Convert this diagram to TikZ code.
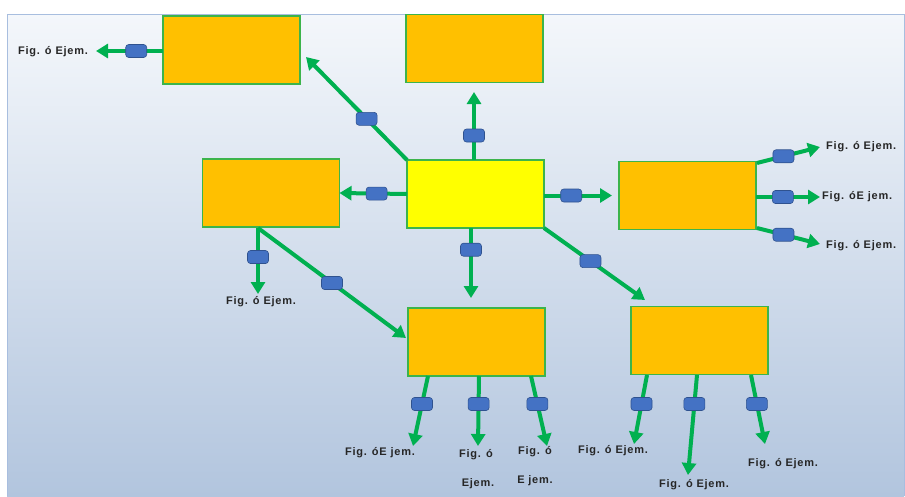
\documentclass[tikz,border=0pt]{standalone}
\usepackage{fontspec}
\setmainfont{Liberation Sans}
\newfontfamily\lblfont[LetterSpace=7]{Liberation Sans}
\usetikzlibrary{arrows.meta,calc}
\definecolor{gline}{HTML}{00B050}
\definecolor{gedge}{HTML}{3CB44B}
\definecolor{obox}{HTML}{FFC000}
\definecolor{ybox}{HTML}{FFFF00}
\definecolor{hblue}{HTML}{4472C4}
\definecolor{hborder}{HTML}{2F528F}
\definecolor{bgtop}{HTML}{F4F7FB}
\definecolor{bgbot}{HTML}{B2C5DE}
\definecolor{frame}{HTML}{A8BEDF}
\begin{document}
\begin{tikzpicture}[x=1pt,y=-1pt,
  orbox/.style={draw=gedge, line width=1.3pt, fill=obox, minimum width=137pt, minimum height=68pt, inner sep=0pt, outer sep=0pt},
  yebox/.style={orbox, fill=ybox},
  conn/.style={draw=gline, line width=4pt, -{Triangle[length=12pt,width=14pt]}},
  handle/.style={draw=hborder, line width=0.6pt, fill=hblue, rounded corners=3pt, minimum width=21pt, minimum height=13pt, inner sep=0pt},
  lbl/.style={font=\lblfont\bfseries\fontsize{11}{13}\selectfont, text=black!85, inner sep=0pt}
]
\useasboundingbox (0,0) rectangle (905,496);
\fill[white] (0,0) rectangle (905,496);
\shade[top color=bgtop, bottom color=bgbot] (7,14) rectangle (904,496);
\draw[frame, line width=1pt] (7,496) -- (7,14) -- (904,14) -- (904,496);

% boxes
\node[orbox] (tl) at (231.5,50) {};
\node[orbox] (tc) at (474.5,48.5) {};
\node[orbox] (lm) at (271,193) {};
\node[yebox] (c) at (475.5,194) {};
\node[orbox] (rt) at (687.5,195.5) {};
\node[orbox] (bc) at (476.5,342) {};
\node[orbox] (br) at (699.5,340.5) {};

% coordinates
\coordinate (tlTip) at (306,57);
\coordinate (tlOut) at (96,51);
\coordinate (tcTip) at (474,92);
\coordinate (cBot) at (471,228);
\coordinate (bcTip) at (471,298);
\coordinate (brTip) at (645,300);
\coordinate (lmA) at (258,228);
\coordinate (lmTip) at (258,294);
\coordinate (lmDiag) at (406,338);
\coordinate (r1s) at (757,163); \coordinate (r1t) at (820,147);
\coordinate (r2s) at (756,197); \coordinate (r2t) at (820,197);
\coordinate (r3s) at (757,228); \coordinate (r3t) at (820,244);
\coordinate (b1s) at (428,376); \coordinate (b1t) at (413,446);
\coordinate (b2s) at (479,376); \coordinate (b2t) at (478,446);
\coordinate (b3s) at (531,376); \coordinate (b3t) at (547,446);
\coordinate (d1s) at (647,375); \coordinate (d1t) at (634,444);
\coordinate (d2s) at (697,375); \coordinate (d2t) at (688,475);
\coordinate (d3s) at (751,375); \coordinate (d3t) at (765,444);

% connectors from center
\path[conn] (c.west) -- (lm.east) node[handle,pos=0.45] (h1) {};
\path[conn] (tcTip |- c.north) -- (tcTip) node[handle,pos=0.36] (h2) {};
\path[conn] (c.north west) -- (tlTip) node[handle,pos=0.4] (h3) {};
\path[conn] (c.east |- rt.west) -- (rt.west -| 612,0) node[handle,pos=0.4] (h4) {};
\path[conn] (cBot) -- (bcTip) node[handle,pos=0.31] (h5) {};
\path[conn] (c.south east) -- (brTip) node[handle,pos=0.46] (h6) {};

% top-left box
\path[conn] (tl.west |- tlOut) -- (tlOut) node[handle,pos=0.4] (h7) {};

% left box
\path[conn] (lmA) -- (lmTip) node[handle,pos=0.44] (h8) {};
\path[conn] (lmA) -- (lmDiag) node[handle,pos=0.5] (h9) {};

% right box
\path[conn] (r1s) -- (r1t) node[handle,pos=0.42] (h10) {};
\path[conn] (r2s) -- (r2t) node[handle,pos=0.42] (h11) {};
\path[conn] (r3s) -- (r3t) node[handle,pos=0.42] (h12) {};

% bottom center box
\path[conn] (b1s) -- (b1t) node[handle,pos=0.4] (h13) {};
\path[conn] (b2s) -- (b2t) node[handle,pos=0.4] (h14) {};
\path[conn] (b3s) -- (b3t) node[handle,pos=0.4] (h15) {};

% bottom right box
\path[conn] (d1s) -- (d1t) node[handle,pos=0.42] (h16) {};
\path[conn] (d2s) -- (d2t) node[handle,pos=0.29] (h17) {};
\path[conn] (d3s) -- (d3t) node[handle,pos=0.42] (h18) {};

% labels
\node[lbl] (L1) at (53,52) {Fig. ó Ejem.};
\node[lbl, anchor=west] (L2) at (826,147) {Fig. ó Ejem.};
\node[lbl, anchor=west] (L3) at (822,197) {Fig. óE jem.};
\node[lbl, anchor=west] (L4) at (826,246) {Fig. ó Ejem.};
\node[lbl] (L5) at (261,302) {Fig. ó Ejem.};
\node[lbl] (L6) at (380,453) {Fig. óE jem.};
\node[lbl] (L7) at (476,455) {Fig. ó};
\node[lbl] (L8) at (478,484) {Ejem.};
\node[lbl] (L9) at (535,452) {Fig. ó};
\node[lbl] (L10) at (535,481) {E jem.};
\node[lbl] (L11) at (613,451) {Fig. ó Ejem.};
\node[lbl] (L12) at (694,485) {Fig. ó Ejem.};
\node[lbl] (L13) at (783,464) {Fig. ó Ejem.};
\end{tikzpicture}
\end{document}
